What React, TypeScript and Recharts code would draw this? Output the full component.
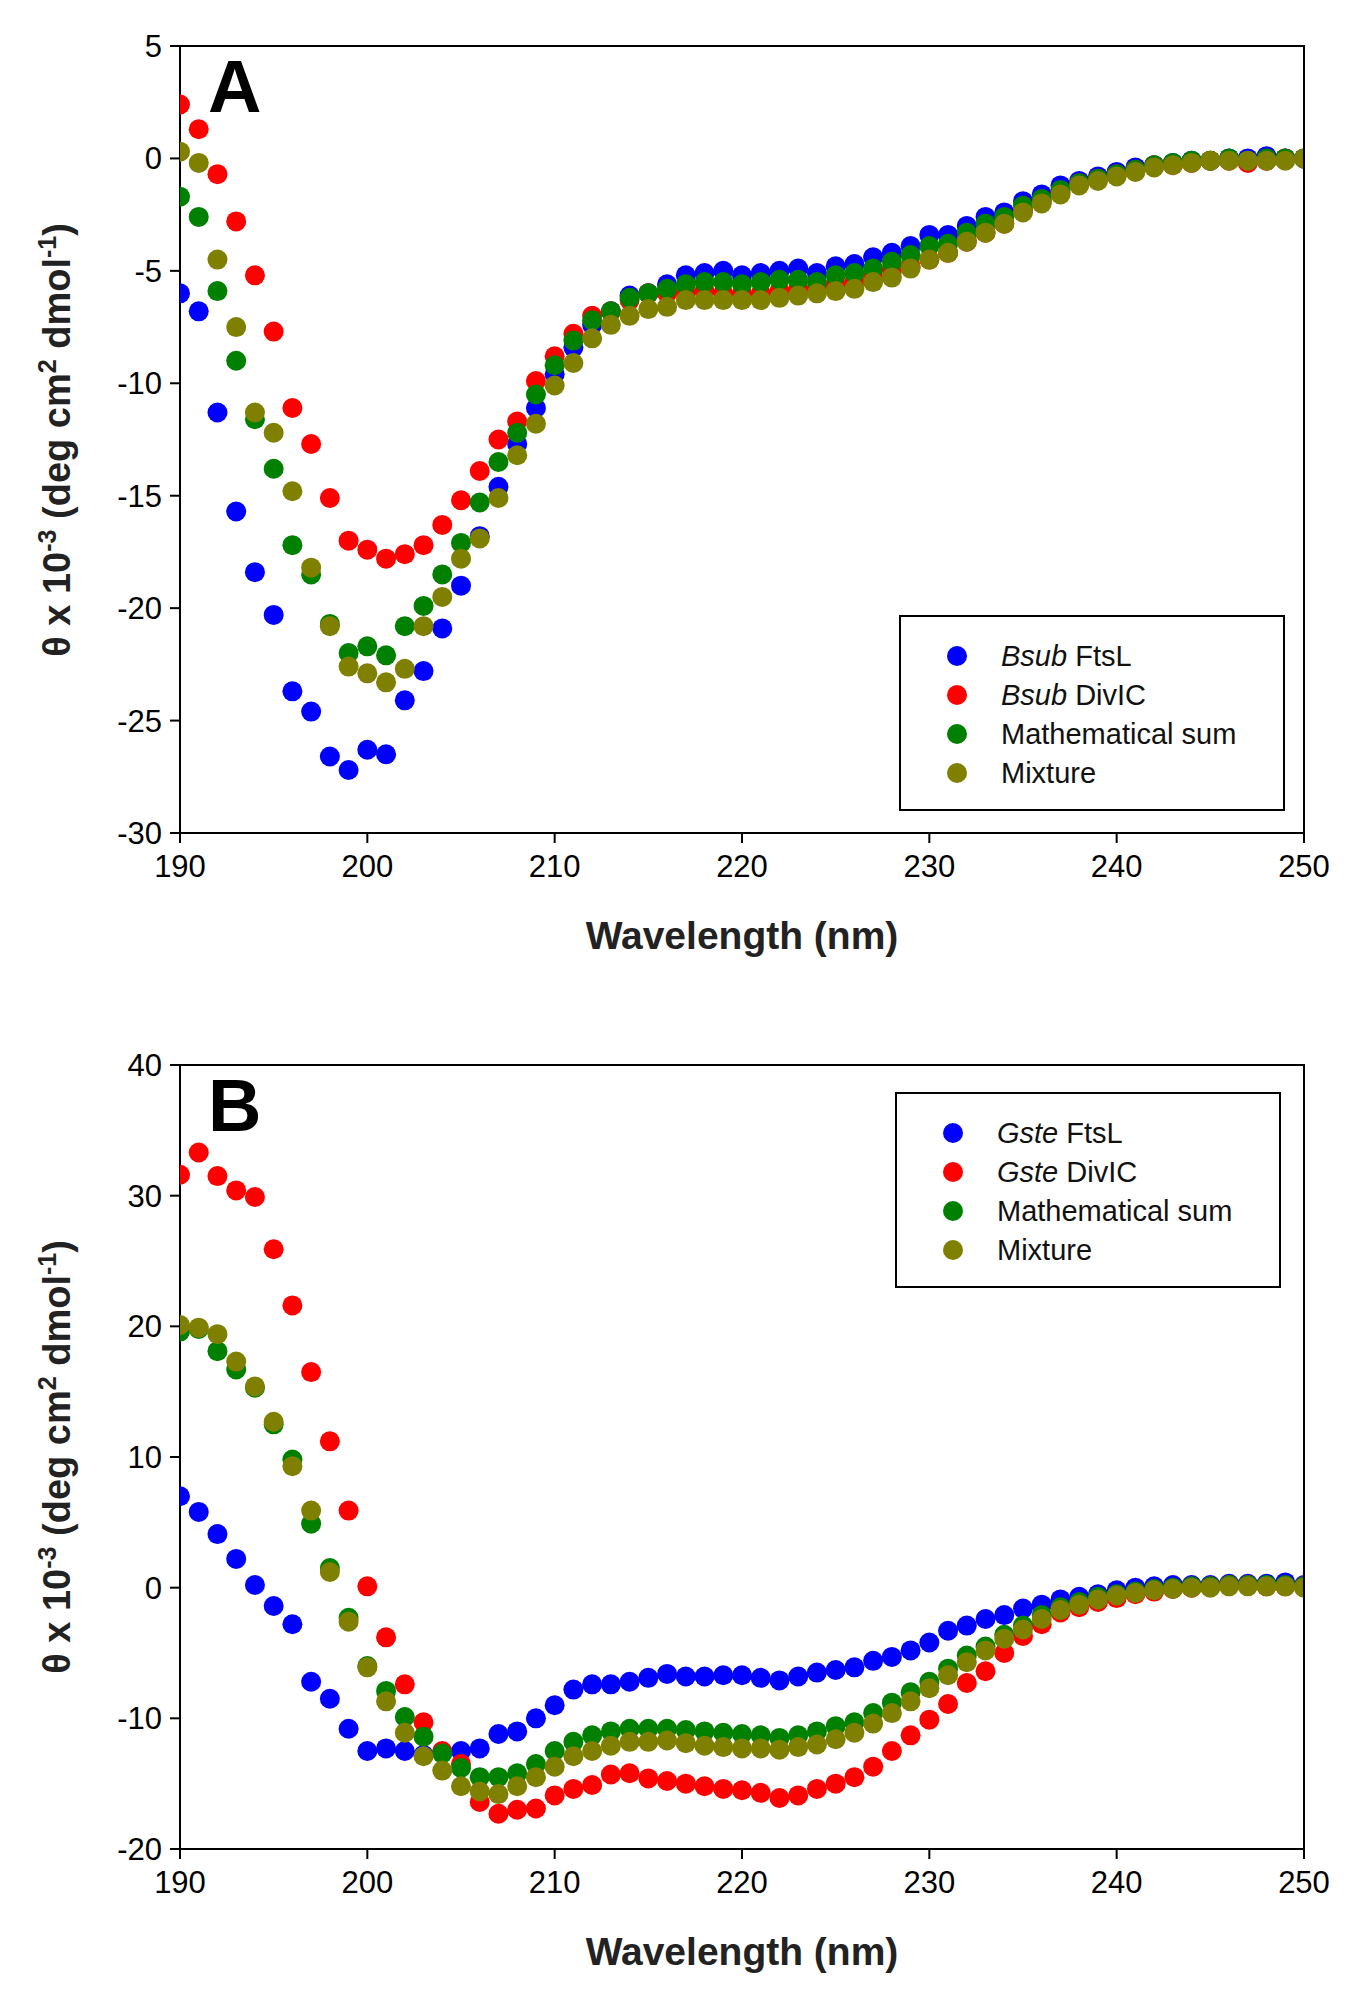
import React from "react";
import { ScatterChart, Scatter, XAxis, YAxis } from "recharts";

const wavelengths = Array.from({ length: 61 }, (_, i) => 190 + i);

const aFtsL = [-6,-6.8,-11.3,-15.7,-18.4,-20.3,-23.7,-24.6,-26.6,-27.2,-26.3,-26.5,-24.1,-22.8,-20.9,-19,-16.8,-14.6,-12.7,-11.1,-9.6,-8.4,-7.4,-6.8,-6.1,-6,-5.6,-5.2,-5.1,-5,-5.2,-5.1,-5,-4.9,-5.1,-4.8,-4.7,-4.4,-4.2,-3.9,-3.4,-3.4,-3,-2.6,-2.4,-1.9,-1.6,-1.2,-1,-0.8,-0.6,-0.4,-0.3,-0.2,-0.1,-0.1,0,0,0.1,0,0];
const aDivIC = [2.4,1.3,-0.7,-2.8,-5.2,-7.7,-11.1,-12.7,-15.1,-17,-17.4,-17.8,-17.6,-17.2,-16.3,-15.2,-13.9,-12.5,-11.7,-9.9,-8.8,-7.8,-7,-6.8,-6.3,-6,-6,-6,-5.9,-6,-6,-6,-5.9,-5.8,-5.8,-5.6,-5.5,-5.3,-5,-4.8,-4.5,-4.2,-3.7,-3.3,-2.9,-2.3,-1.9,-1.5,-1.1,-0.9,-0.7,-0.5,-0.3,-0.3,-0.2,-0.1,-0.1,-0.2,-0.1,0,0];
const aSum = [-1.7,-2.6,-5.9,-9,-11.6,-13.8,-17.2,-18.5,-20.7,-22,-21.7,-22.1,-20.8,-19.9,-18.5,-17.1,-15.3,-13.5,-12.2,-10.5,-9.2,-8.1,-7.2,-6.8,-6.2,-6,-5.8,-5.6,-5.5,-5.5,-5.6,-5.5,-5.4,-5.4,-5.5,-5.2,-5.1,-4.9,-4.6,-4.3,-3.9,-3.8,-3.3,-2.9,-2.6,-2.1,-1.8,-1.4,-1.1,-0.9,-0.7,-0.5,-0.3,-0.2,-0.1,-0.1,0,-0.1,0,0,0];
const aMix = [0.3,-0.2,-4.5,-7.5,-11.3,-12.2,-14.8,-18.2,-20.8,-22.6,-22.9,-23.3,-22.7,-20.8,-19.5,-17.8,-16.9,-15.1,-13.2,-11.8,-10.1,-9.1,-8,-7.4,-7,-6.7,-6.6,-6.3,-6.3,-6.3,-6.3,-6.3,-6.2,-6.1,-6,-5.9,-5.8,-5.5,-5.3,-4.9,-4.5,-4.2,-3.7,-3.3,-2.9,-2.4,-2,-1.6,-1.2,-1,-0.8,-0.6,-0.4,-0.3,-0.2,-0.1,-0.1,-0.1,-0.1,-0.1,0];

const bFtsL = [7,5.8,4.1,2.2,0.2,-1.4,-2.8,-7.2,-8.5,-10.8,-12.5,-12.3,-12.5,-12.8,-12.6,-12.5,-12.3,-11.2,-11,-10,-9,-7.8,-7.4,-7.4,-7.2,-6.9,-6.6,-6.8,-6.8,-6.7,-6.7,-6.9,-7.1,-6.8,-6.5,-6.3,-6.1,-5.6,-5.3,-4.8,-4.2,-3.3,-2.9,-2.4,-2.1,-1.6,-1.3,-0.9,-0.7,-0.5,-0.2,0,0.1,0.2,0.2,0.2,0.3,0.3,0.3,0.4,0.2];
const bDivIC = [31.6,33.3,31.5,30.4,29.9,25.9,21.6,16.5,11.2,5.9,0.1,-3.8,-7.4,-10.3,-12.5,-13.5,-16.4,-17.3,-17,-16.9,-15.9,-15.4,-15.1,-14.3,-14.2,-14.6,-14.8,-15,-15.2,-15.4,-15.5,-15.7,-16.1,-15.9,-15.4,-15,-14.5,-13.7,-12.5,-11.3,-10.1,-8.9,-7.3,-6.4,-5,-3.7,-2.8,-1.9,-1.5,-1.1,-0.8,-0.5,-0.3,-0.1,0,0.1,0.2,0.2,0.1,0.1,0.1];
const bSum = [19.6,19.8,18.1,16.7,15.3,12.5,9.8,4.9,1.5,-2.3,-6,-7.9,-9.9,-11.4,-12.7,-13.8,-14.5,-14.5,-14.2,-13.5,-12.5,-11.8,-11.3,-11,-10.8,-10.8,-10.8,-10.9,-11,-11.1,-11.2,-11.3,-11.5,-11.3,-11,-10.6,-10.3,-9.6,-8.8,-8,-7.2,-6.2,-5.2,-4.5,-3.6,-2.9,-2.1,-1.5,-1.1,-0.7,-0.5,-0.3,-0.1,0,0.1,0.1,0.2,0.2,0.2,0.2,0.1];
const bMix = [20.1,19.9,19.4,17.3,15.4,12.7,9.3,5.9,1.2,-2.6,-6.1,-8.7,-11.1,-12.9,-14,-15.2,-15.6,-15.8,-15.2,-14.5,-13.7,-12.9,-12.5,-12.1,-11.8,-11.8,-11.7,-11.9,-12.1,-12.2,-12.3,-12.3,-12.4,-12.2,-12,-11.6,-11.1,-10.4,-9.6,-8.7,-7.7,-6.7,-5.7,-4.8,-3.9,-3.2,-2.4,-1.7,-1.3,-0.9,-0.6,-0.4,-0.2,-0.1,0,0,0.1,0.1,0.1,0.1,0];

const xTicks = [190, 200, 210, 220, 230, 240, 250];
const aTicks = [-30, -25, -20, -15, -10, -5, 0, 5];
const bTicks = [-20, -10, 0, 10, 20, 30, 40];
const colors = ["#0000ff", "#ff0000", "#008000", "#808000"];

const FONT = "'Liberation Sans', Arial, sans-serif";
const toPts = (ys: number[]) => wavelengths.map((x, i) => ({ x, y: ys[i] }));
const Dot = (p: any) => <circle cx={p.cx} cy={p.cy} r={10} fill={p.fill} />;

const LEFT = 180;
const RIGHT = 1304;

function Panel({ top, height, mTop, mBottom, domain, ticks, series, letter, legend, legendBox }: any) {
  const tickStyle = { fontSize: 31, fill: "#000", fontFamily: FONT };
  const plotTop = top + mTop;
  const plotBottom = top + height - mBottom - 70;
  return (
    <>
      <div style={{ position: "absolute", left: 0, top }}>
        <ScatterChart width={1350} height={height} margin={{ top: mTop, right: 1350 - RIGHT, bottom: mBottom, left: LEFT - 110 }}>
          <XAxis type="number" dataKey="x" domain={[190, 250]} ticks={xTicks} tick={tickStyle}
            stroke="#000" strokeWidth={2} tickSize={10} tickMargin={12} height={70} allowDataOverflow
            label={{ value: "Wavelength (nm)", position: "insideBottom", offset: -46, style: { fontSize: 39, fontWeight: "bold", fill: "#222", fontFamily: FONT } }} />
          <YAxis type="number" dataKey="y" domain={domain} ticks={ticks} tick={tickStyle} stroke="#000" strokeWidth={2} tickSize={10} tickMargin={8} width={110} allowDataOverflow />
          {series.map((s: number[], i: number) => (
            <Scatter key={i} data={toPts(s)} fill={colors[i]} shape={Dot} isAnimationActive={false} />
          ))}
        </ScatterChart>
      </div>
      <div style={{ position: "absolute", left: LEFT - 1, top: plotTop - 1, width: RIGHT - LEFT + 2, height: plotBottom - plotTop + 2, borderTop: "2px solid #000", borderRight: "2px solid #000", boxSizing: "border-box", pointerEvents: "none" }} />
      <div style={{ position: "absolute", left: 208, top: plotTop + 4, fontSize: 74, fontWeight: "bold", fontFamily: FONT, lineHeight: 1 }}>{letter}</div>
      <div style={{ position: "absolute", left: 56, top: (plotTop + plotBottom) / 2, transform: "translate(-50%, -50%) rotate(-90deg)", whiteSpace: "nowrap", fontSize: 38, fontWeight: "bold", fontFamily: FONT, color: "#222" }}>
        θ x 10<sup style={{ fontSize: 25 }}>-3</sup> (deg cm<sup style={{ fontSize: 25 }}>2</sup> dmol<sup style={{ fontSize: 25 }}>-1</sup>)
      </div>
      <div style={{ position: "absolute", left: legendBox[0], top: legendBox[1], width: 386, height: 196, border: "2px solid #000", boxSizing: "border-box", background: "#fff", fontFamily: FONT, fontSize: 29, color: "#111" }}>
        {legend.map((l: any, i: number) => (
          <div key={i} style={{ position: "absolute", left: 46, top: 22 + i * 39, display: "flex", alignItems: "center", height: 34 }}>
            <span style={{ display: "inline-block", width: 20, height: 20, borderRadius: 10, background: colors[i], marginRight: 34 }} />
            <span>{l}</span>
          </div>
        ))}
      </div>
    </>
  );
}

export default function App() {
  return (
    <div style={{ position: "absolute", left: 0, top: 0, width: 1350, height: 2001, background: "#fff" }}>
      <Panel top={0} height={1000} mTop={46} mBottom={97} domain={[-30, 5]} ticks={aTicks}
        series={[aFtsL, aDivIC, aSum, aMix]} letter="A" legendBox={[899, 615]}
        legend={[<><i>Bsub</i> FtsL</>, <><i>Bsub</i> DivIC</>, "Mathematical sum", "Mixture"]} />
      <Panel top={1000} height={1001} mTop={65} mBottom={82} domain={[-20, 40]} ticks={bTicks}
        series={[bFtsL, bDivIC, bSum, bMix]} letter="B" legendBox={[895, 1092]}
        legend={[<><i>Gste</i> FtsL</>, <><i>Gste</i> DivIC</>, "Mathematical sum", "Mixture"]} />
    </div>
  );
}
